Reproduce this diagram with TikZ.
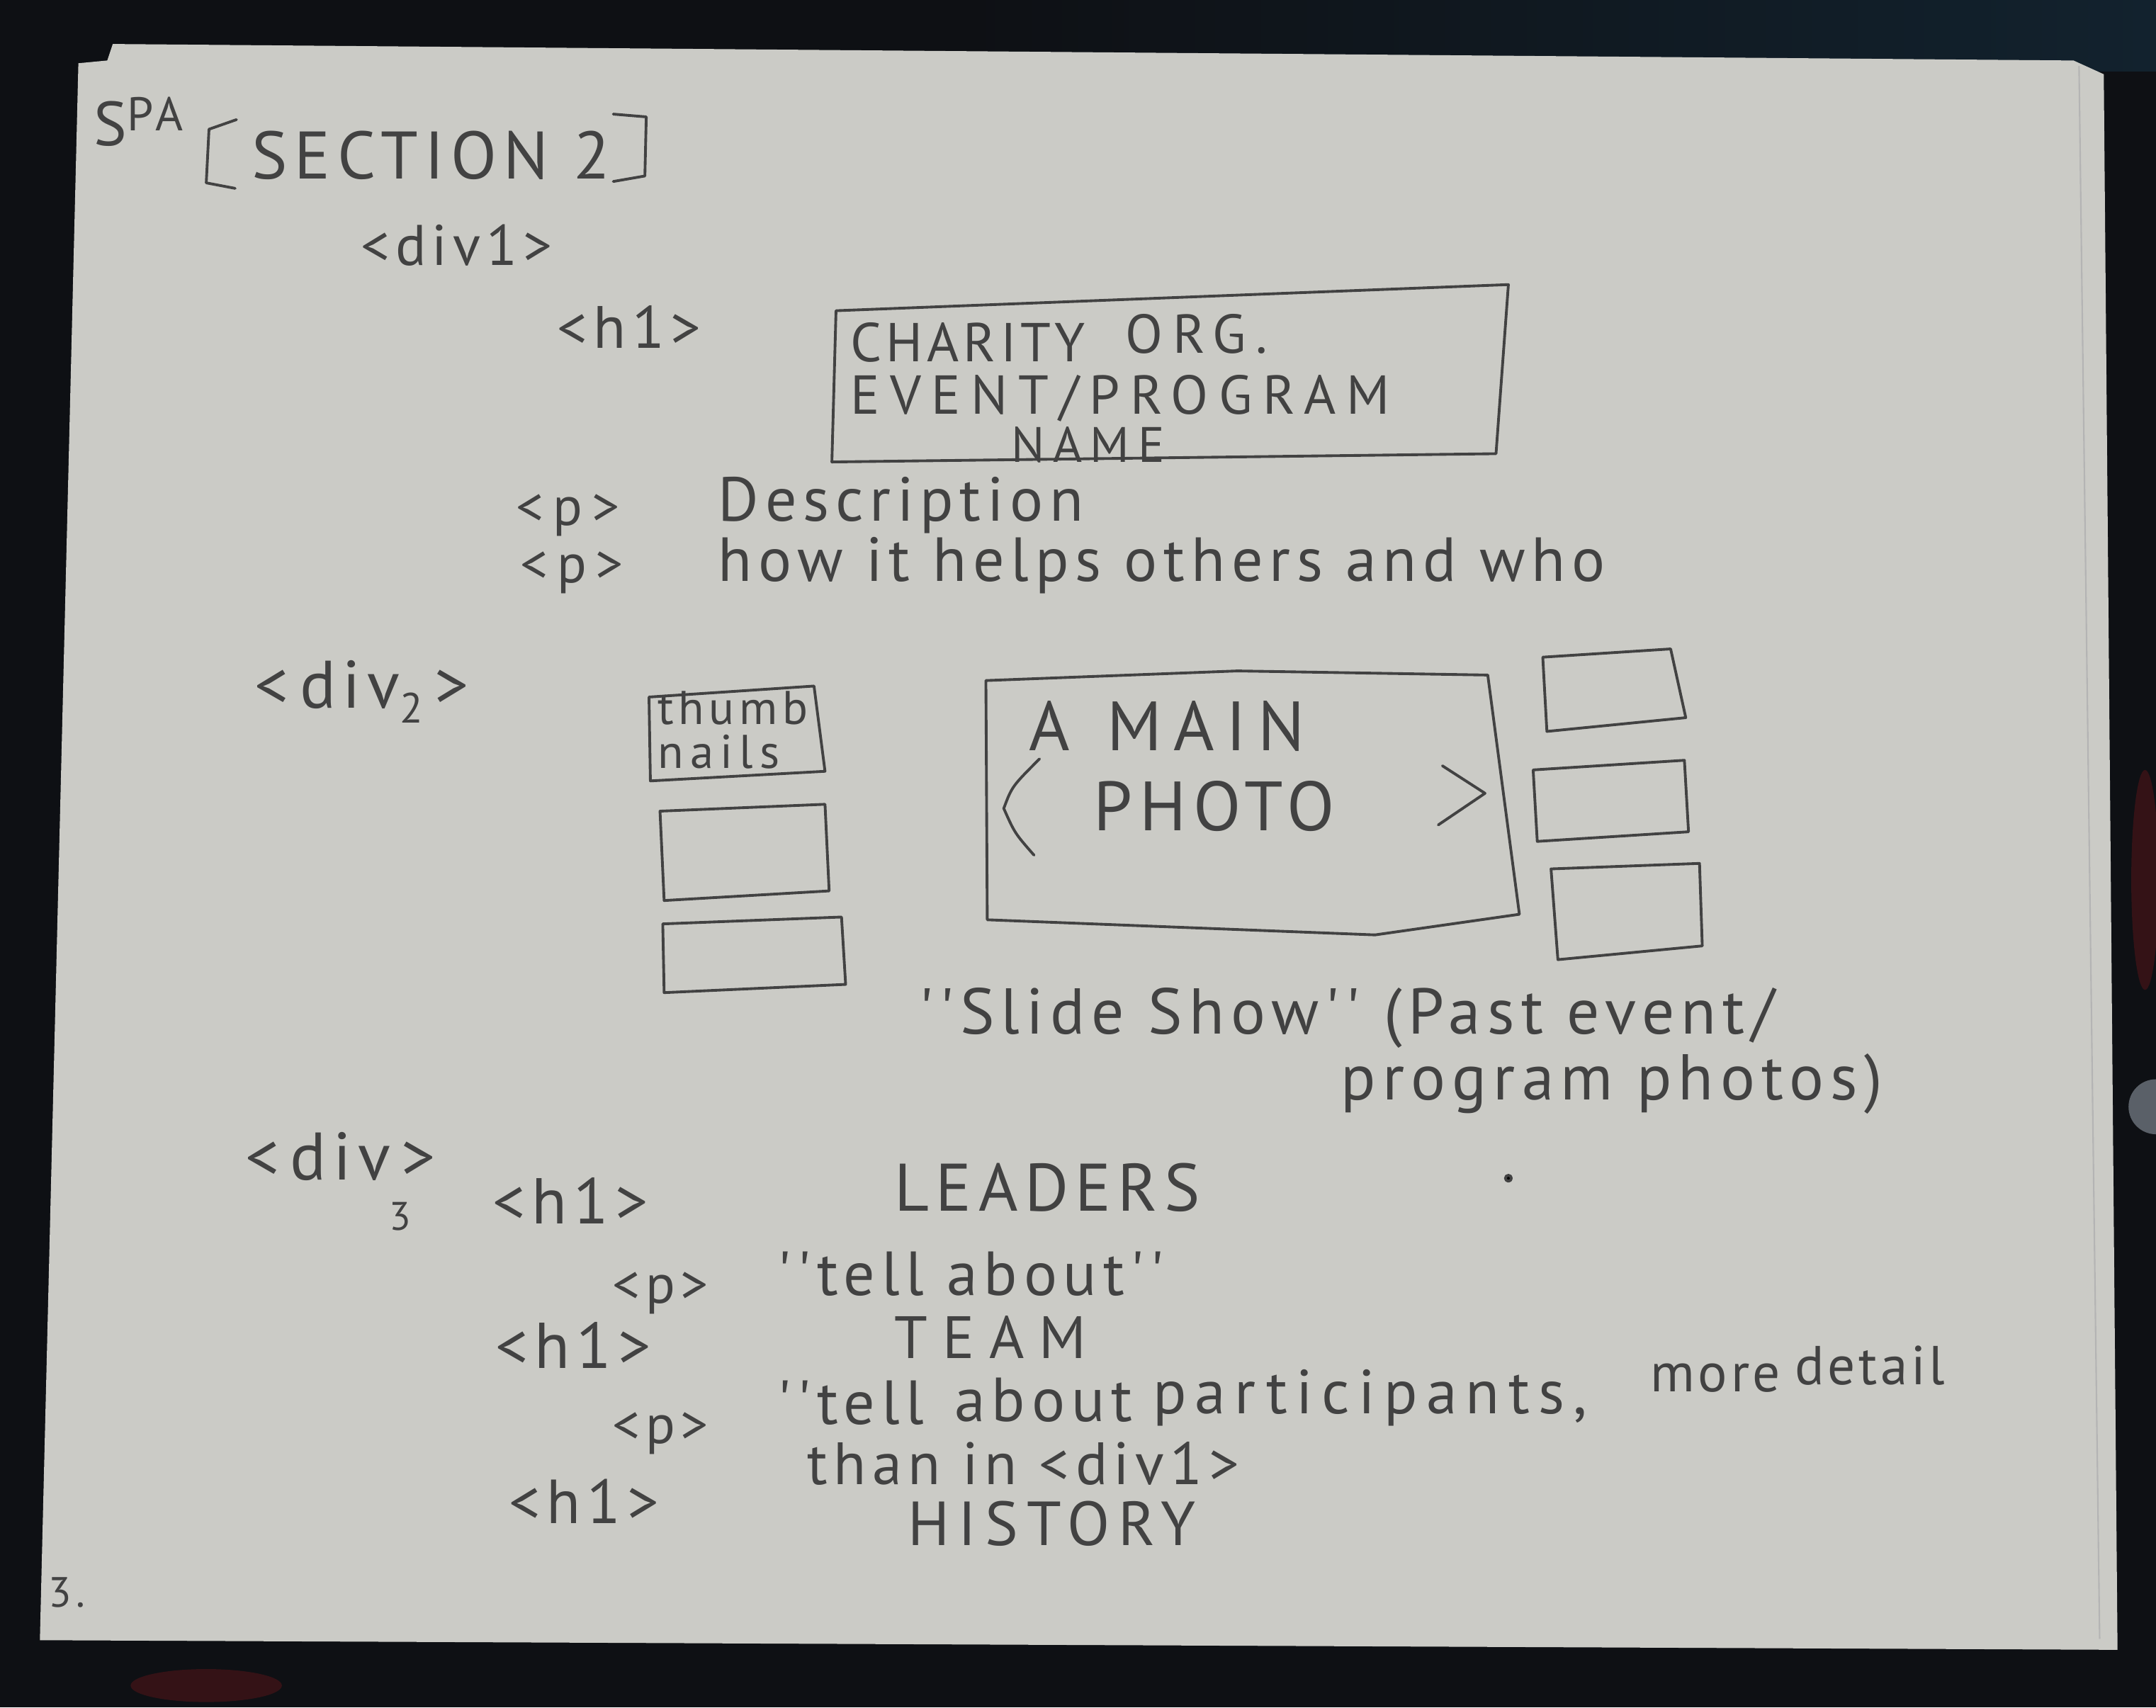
\documentclass[tikz,border=0pt]{standalone}
\usepackage{fontspec}
\setmainfont{PT Sans}
\newfontfamily\handfont[LetterSpace=10]{PT Sans}
\newcommand{\hw}[1]{\handfont\fontsize{#1}{#1}\selectfont}
\newcommand{\hwx}[2]{\handfont\fontsize{#1}{#1}\selectfont\addfontfeature{LetterSpace=#2}}
\definecolor{pencil}{RGB}{66,66,66}
\definecolor{paper}{RGB}{203,203,198}
\definecolor{desk}{RGB}{14,16,20}
\definecolor{deskred}{RGB}{52,18,22}
\definecolor{deskblue}{RGB}{18,34,46}
\definecolor{deskgrey}{RGB}{90,96,104}
\usetikzlibrary{positioning}

\begin{document}
\begin{tikzpicture}[x=0.019407cm, y=-0.019407cm,
  pencil/.style={draw=pencil, line width=1.1pt, line join=round, line cap=round},
  hand/.style={text=pencil, inner sep=0pt, anchor=base west}]

  % Desk and sheet
  \useasboundingbox (0,0) rectangle (1568,1242);
  \fill[desk] (0,0) rectangle (1568,1242);
  \shade[left color=desk, right color=deskblue] (700,0) rectangle (1568,52);
  \fill[deskred] (150,1226) ellipse (55 and 12);
  \fill[deskred] (1560,640) ellipse (10 and 80);
  \fill[deskgrey] (1568,805) circle (20);
  \fill[paper] (57,46) -- (78,44) -- (82,32) -- (1508,44) -- (1530,54)
    -- (1540,1200) -- (29,1193) -- cycle;
  \draw[pencil!40, line width=0.6pt] (1512,48) -- (1527,1192);

  % Heading
  \node[hand, font=\hw{25pt}] (spa) at (68,106) {S\raisebox{6pt}{\hw{19pt}PA}};
  \node[hand, font=\hw{27pt}] (section) at (183,130) {SECTION 2};
  \draw[pencil] (172,87) -- (152,94) -- (150,133) -- (171,137);
  \draw[pencil] (446,83) -- (470,85) -- (469,128) -- (446,132);

  % First div
  \node[hand, font=\hw{23pt}] (divone) at (262,193) {<div1>};
  \node[hand, font=\hw{24pt}] (htitle) at (405,253) {<h1>};
  \draw[pencil] (608,226) -- (1097,207) -- (1088,330) -- (605,336) -- cycle;
  \node[hand, font=\hwx{22pt}{8}] (titleA) at (618,263) {CHARITY};
  \node[hand, font=\hwx{22pt}{18}] (titleB) at (818,257) {ORG.};
  \node[hand, font=\hwx{22pt}{19}] (titleC) at (618,301) {EVENT/PROGRAM};
  \node[hand, font=\hwx{20pt}{35}] (titleD) at (735,336) {N\,A\,M\,E};
  \node[hand, font=\hw{22pt}] (pdesc) at (375,382) {<\,p\,>};
  \node[hand, font=\hw{25pt}] (desc) at (522,379) {Description};
  \node[hand, font=\hw{22pt}] (phelp) at (378,424) {<\,p\,>};
  \node[hand, font=\hw{25pt}] (helps) at (522,423) {how it helps others and who};

  % Second div
  \node[hand, font=\hw{27pt}] (divtwo) at (185,515) {<\,div\raisebox{-6pt}{\hw{17pt}2}\,>};
  \draw[pencil] (472,507) -- (592,499) -- (600,561) -- (473,568) -- cycle;
  \node[hand, font=\hw{19pt}] (thumbA) at (478,527) {thumb};
  \node[hand, font=\hwx{19pt}{14}] (thumbB) at (478,559) {nails};
  \draw[pencil] (480,590) -- (600,585) -- (603,648) -- (483,655) -- cycle;
  \draw[pencil] (482,672) -- (612,667) -- (615,716) -- (483,722) -- cycle;
  \draw[pencil] (717,495) -- (900,488) -- (1082,491) -- (1105,665)
    -- (1000,680) -- (718,669) -- cycle;
  \node[hand, font=\hw{28pt}] (mainA) at (748,546) {A\, M\,A\,I\,N};
  \node[hand, font=\hw{28pt}] (mainB) at (795,604) {PHOTO};
  \draw[pencil] (756,552) .. controls (736,572) .. (730,588) .. controls (738,606) .. (752,622);
  \draw[pencil] (1049,557) -- (1080,577) -- (1046,600);
  \draw[pencil] (1122,478) -- (1215,472) -- (1226,522) -- (1125,532) -- cycle;
  \draw[pencil] (1115,560) -- (1225,553) -- (1228,605) -- (1118,612) -- cycle;
  \draw[pencil] (1128,632) -- (1236,628) -- (1238,688) -- (1133,698) -- cycle;
  \node[hand, font=\hw{26pt}] (slideA) at (668,752) {''Slide Show'' (Past event/};
  \node[hand, font=\hw{26pt}] (slideB) at (975,800) {program photos)};

  % Third div
  \node[hand, font=\hw{27pt}] (divthree) at (178,858) {<\,div\,>};
  \node[hand, font=\hw{16pt}] (divthreesub) at (283,895) {3};
  \node[hand, font=\hw{26pt}] (hleaders) at (358,890) {<h1>};
  \node[hand, font=\hw{27pt}] (leaders) at (650,881) {LEADERS};
  \node[hand, font=\hw{22pt}] (pleaders) at (445,948) {<p>};
  \node[hand, font=\hw{25pt}] (tellA) at (565,942) {''tell\ about''};
  \node[hand, font=\hw{26pt}] (hteam) at (360,995) {<h1>};
  \node[hand, font=\hwx{24pt}{25}] (team) at (650,988) {TEAM};
  \node[hand, font=\hw{22pt}] (pteam) at (445,1050) {<p>};
  \node[hand, font=\hw{25pt}] (tellB) at (565,1036) {''tell};
  \node[hand, font=\hw{25pt}] (tellC) at (694,1034) {about};
  \node[hand, font=\hwx{25pt}{14}] (tellD) at (838,1028) {participants,};
  \node[hand, font=\hwx{22pt}{6}] (tellE) at (1200,1012) {more};
  \node[hand, font=\hwx{22pt}{6}] (tellF) at (1305,1007) {detail};
  \node[hand, font=\hw{24pt}] (tellG) at (587,1080) {than in <div1>};
  \node[hand, font=\hw{25pt}] (hhistory) at (370,1108) {<h1>};
  \node[hand, font=\hwx{25pt}{14}] (history) at (660,1124) {HISTORY};
  \fill[pencil] (1097,857) circle (1.2pt);

  % Page number
  \node[hand, font=\hw{17pt}] (pagenum) at (35,1169) {3.};

\end{tikzpicture}
\end{document}
